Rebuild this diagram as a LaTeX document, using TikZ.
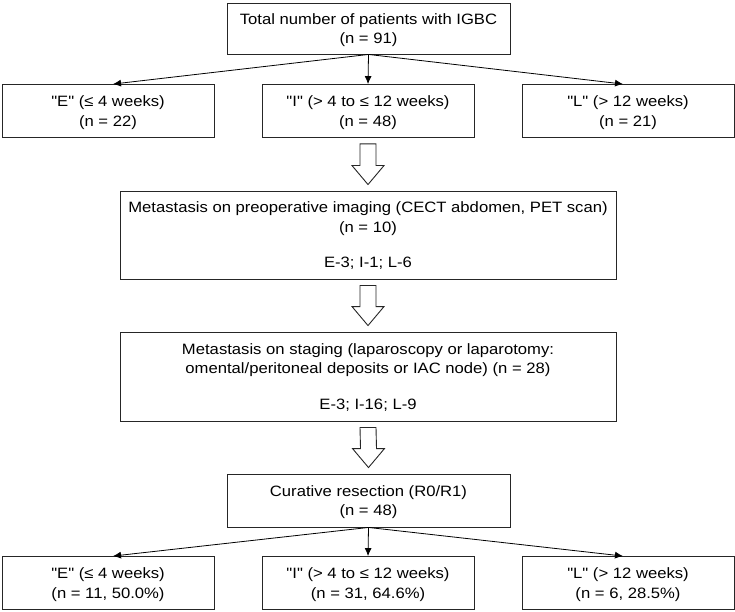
\documentclass[tikz,border=0pt]{standalone}
\usepackage{fontspec}
\setmainfont{Liberation Sans}[FakeStretch=1.11,Ligatures=TeXOff]
\usepackage{tikz}
\usetikzlibrary{calc}
\usetikzlibrary{arrows.meta}
\tikzset{
  box/.style={rectangle,draw=black!85,line width=0.9pt,align=center,inner sep=0pt,text depth=0pt},
  rowbox/.style={box,minimum width=212,minimum height=53},
  thin/.style={-{Latex[length=8pt,width=7pt]},line width=0.8pt},
  hollow/.style={draw=black!85,line width=0.9pt,fill=white,line join=miter}
}
\newcommand{\hollowarrow}[2]{%
  \draw[hollow] ($(#1.south)+(-8,6)$) -- ($(#2.north)+(-8,-25)$) -- ($(#2.north)+(-16,-25)$)
    -- ($(#2.north)+(0,-6)$) -- ($(#2.north)+(16,-25)$) -- ($(#2.north)+(8,-25)$)
    -- ($(#1.south)+(8,6)$) -- cycle;}

\begin{document}
\begin{tikzpicture}[x=1pt,y=-1pt,font=\fontsize{15}{19.5}\selectfont]
 \useasboundingbox (0,0) rectangle (735,612);
 \node[box,minimum width=283,minimum height=51] (total) at (368.5,28.5) {Total number of patients with IGBC\\(n = 91)};
 \node[rowbox] (early) at (108,111) {"E" (≤ 4 weeks)\\(n = 22)};
 \node[rowbox] (inter) at (368,111) {"I" (> 4 to ≤ 12 weeks)\\(n = 48)};
 \node[rowbox] (late) at (628,111) {"L" (> 12 weeks)\\(n = 21)};
 \node[box,minimum width=496,minimum height=88] (imaging) at (368,235) {Metastasis on preoperative imaging (CECT abdomen, PET scan)\\(n = 10)\\[16pt]E-3; I-1; L-6};
 \node[box,minimum width=496,minimum height=89] (staging) at (368,376.5) {Metastasis on staging (laparoscopy or laparotomy:\\omental/peritoneal deposits or IAC node) (n = 28)\\[16pt]E-3; I-16; L-9};
 \node[box,minimum width=283,minimum height=53] (curative) at (368.5,500.5) {Curative resection (R0/R1)\\(n = 48)};
 \node[rowbox] (earlyres) at (108,583) {"E" (≤ 4 weeks)\\(n = 11, 50.0\%)};
 \node[rowbox] (interres) at (368,583) {"I" (> 4 to ≤ 12 weeks)\\(n = 31, 64.6\%)};
 \node[rowbox] (lateres) at (628,583) {"L" (> 12 weeks)\\(n = 6, 28.5\%)};
 \draw[thin](total.south) -- ([xshift=5pt]early.north);
 \draw[thin](total.south) -- (inter.north);
 \draw[thin](total.south) -- ([xshift=-5pt]late.north);
 \hollowarrow{inter}{imaging}
 \hollowarrow{imaging}{staging}
 \hollowarrow{staging}{curative}
 \draw[thin](curative.south) -- ([xshift=5pt]earlyres.north);
 \draw[thin](curative.south) -- (interres.north);
 \draw[thin](curative.south) -- ([xshift=-5pt]lateres.north);
\end{tikzpicture}
\end{document}
